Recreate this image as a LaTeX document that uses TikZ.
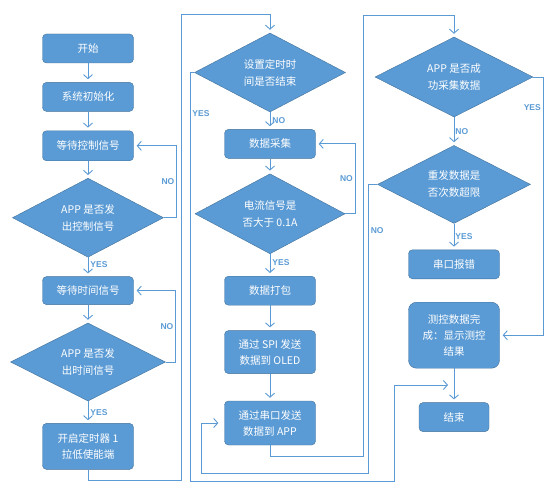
\documentclass[tikz,border=0pt]{standalone}
\usepackage{fontspec}
\newfontfamily\cjk{Noto Sans CJK SC}
\newfontfamily\lblfont{Liberation Sans}
\usepackage{xcolor}
\usepackage{tikz}
\usetikzlibrary{arrows.meta,positioning,shapes.geometric}
\definecolor{boxblue}{RGB}{91,155,213}
\definecolor{boxedge}{RGB}{65,113,156}
\definecolor{lineblue}{RGB}{91,155,213}

\begin{document}
\begin{tikzpicture}[
  x=1pt, y=-1pt,
  node distance=19pt,
  box/.style={draw=boxedge, fill=boxblue, text=white, rounded corners=4pt, align=center,
    minimum width=91pt, minimum height=29pt, inner sep=2pt, font=\cjk\fontsize{10.5}{16}\selectfont},
  dec/.style={diamond, shape aspect=1.9, draw=boxedge, fill=boxblue, text=white, align=center,
    inner sep=0pt, font=\cjk\fontsize{10.5}{17}\selectfont},
  arrow/.style={draw=lineblue, line width=0.9pt, -{Straight Barb[length=4pt,width=9pt]}, shorten >=3pt},
  lbl/.style={text=lineblue, font=\lblfont\bfseries\fontsize{8.5}{9}\selectfont, inner sep=2pt}
]
\fill[white] (0,0) rectangle (548,497);
\useasboundingbox (0,0) rectangle (548,497);

\node[box] (start) at (88,48.5) {开始};
\node[box, below=of start] (init) {系统初始化};
\node[box, below=of init, minimum height=30pt] (waitctl) {等待控制信号};
\node[dec, below=17pt of waitctl, minimum width=151pt, minimum height=79pt] (appctl) {APP 是否发\\出控制信号};
\node[box, below=of appctl, minimum height=28pt] (waittime) {等待时间信号};
\node[dec, below=18pt of waittime, minimum width=155pt, minimum height=78pt] (apptime) {APP 是否发\\出时间信号};
\node[box, below=22pt of apptime, minimum height=46pt] (timer) {开启定时器 1\\拉低使能端};

\node[dec, minimum width=151pt, minimum height=79pt] (timeup) at (270,72.5) {设置定时时\\间是否结束};
\node[box, below=17pt of timeup] (collect) {数据采集};
\node[dec, below=15pt of collect, minimum width=150pt, minimum height=80pt] (current) {电流信号是\\否大于 0.1A};
\node[box, below=22pt of current] (pack) {数据打包};
\node[box, below=25pt of pack, minimum height=43pt] (spi) {通过 SPI 发送\\数据到 OLED};
\node[box, below=27pt of spi, minimum height=44pt] (uart) {通过串口发送\\数据到 APP};

\node[dec, minimum width=158pt, minimum height=80pt] (appok) at (454,77) {APP 是否成\\功采集数据};
\node[dec, below=28pt of appok, minimum width=153pt, minimum height=78pt] (retry) {重发数据是\\否次数超限};
\node[box, below=26pt of retry] (uarterr) {串口报错};
\node[box, below=23pt of uarterr, minimum height=66pt, rounded corners=8pt] (result) {测控数据完\\成：显示测控\\结果};
\node[box, below=34pt of result, minimum width=70pt] (finish) {结束};

\coordinate (joinend) at (result.south |- 0,385);

\draw[arrow] (start) -- (init);
\draw[arrow] (init) -- (waitctl);
\draw[arrow] (waitctl) -- (appctl);
\draw[arrow] (appctl) -- node[lbl, right, pos=0.4] {YES} (waittime);
\draw[arrow] (waittime) -- (apptime);
\draw[arrow] (apptime) -- node[lbl, right] {YES} (timer);
\draw[arrow] (appctl.east) -- ++(13,0) |- node[lbl, left, pos=0.25] {NO} (waitctl.east);
\draw[arrow] (apptime.east) -- ++(10,0) |- node[lbl, left, pos=0.25] {NO} (waittime.east);
\draw[arrow] (timer.south) |- (181,480) -- (181,14) -| (timeup.north);

\draw[arrow] (timeup) -- node[lbl, right] {NO} (collect);
\draw[arrow] (collect) -- (current);
\draw[arrow] (current) -- node[lbl, right, pos=0.4] {YES} (pack);
\draw[arrow] (pack) -- (spi);
\draw[arrow] (spi) -- (uart);
\draw[arrow] (current.east) -- ++(10,0) |- node[lbl, left, pos=0.25] {NO} (collect.east);
\draw[arrow, shorten >=6pt] (timeup.west) -| node[lbl, right, pos=0.55] {YES} (190,481) -| (394,385) -- (joinend);
\draw[arrow] (uart.south) |- (363,456) -- (363,15) -| (appok.north);

\draw[arrow] (appok) -- node[lbl, right, inner sep=1pt] {NO} (retry);
\draw[arrow] (retry) -- node[lbl, right, inner sep=1pt] {YES} (uarterr);
\draw[arrow] (result) -- (finish);
\draw[arrow] (appok.east) -- ++(10,0) |- node[lbl, left, pos=0.06] {YES} (result.east);
\draw[arrow, shorten >=6pt] (retry.west) -- ++(-9,0) |- node[lbl, right, pos=0.08] {NO} (201,473) |- (uart.west);
\end{tikzpicture}
\end{document}
